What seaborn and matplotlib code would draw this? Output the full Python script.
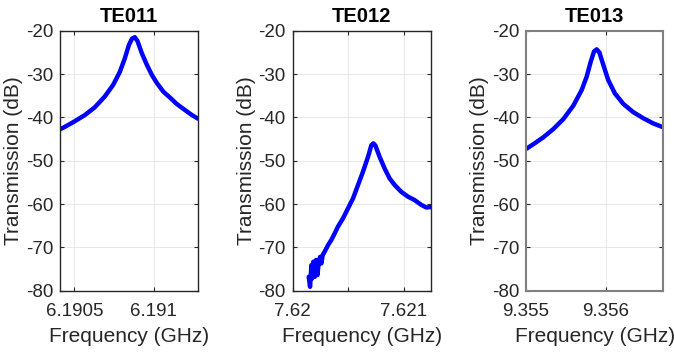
import numpy as np
import pandas as pd
import seaborn as sns
import matplotlib.pyplot as plt

# TE011 trace
f_te011 = [6.190408, 6.190440, 6.190498, 6.190565, 6.190628, 6.190691, 6.190744,
           6.190786, 6.190817, 6.190843, 6.190863, 6.190880, 6.190897, 6.190924,
           6.190956, 6.190987, 6.191019, 6.191060, 6.191103, 6.191140, 6.191176,
           6.191240, 6.191277]
s_te011 = [-42.8, -42.2, -41.0, -39.5, -37.7, -35.2, -32.5,
           -29.5, -26.4, -23.3, -21.8, -21.5, -22.4, -25.2,
           -27.9, -30.2, -32.1, -34.1, -35.5, -36.8, -37.8,
           -39.5, -40.3]

# TE012 trace (noisy low end)
f_te012 = [7.620144, 7.620156, 7.620168, 7.620174, 7.620186, 7.620198, 7.620210,
           7.620222, 7.620234, 7.620246, 7.620258, 7.620269, 7.620287, 7.620317,
           7.620347, 7.620377, 7.620407, 7.620452, 7.620497, 7.620542, 7.620587,
           7.620632, 7.620677, 7.620707, 7.620725, 7.620743, 7.620781, 7.620826,
           7.620871, 7.620916, 7.620976, 7.621036, 7.621096, 7.621156, 7.621201,
           7.621240]
s_te012 = [-76.8, -79.1, -74.1, -77.2, -73.3, -76.8, -72.9,
           -76.4, -73.5, -72.2, -73.7, -71.8, -71.0, -69.5,
           -68.3, -66.8, -65.2, -63.3, -61.0, -58.7, -55.6,
           -52.5, -49.1, -46.4, -46.0, -46.5, -49.1, -51.8,
           -54.1, -55.6, -57.2, -58.3, -59.1, -60.2, -60.8,
           -60.7]

# TE013 trace
f_te013 = [9.355000, 9.355092, 9.355218, 9.355343, 9.355469, 9.355594, 9.355699,
           9.355762, 9.355812, 9.355854, 9.355887, 9.355921, 9.355971, 9.356033,
           9.356117, 9.356222, 9.356347, 9.356473, 9.356598, 9.356724]
s_te013 = [-47.3, -46.2, -44.6, -42.7, -40.4, -37.3, -33.7,
           -30.6, -27.2, -24.8, -24.3, -25.0, -27.9, -31.4,
           -34.5, -36.9, -38.8, -40.2, -41.4, -42.3]

titles = ["TE011", "TE012", "TE013"]
xlims = [(6.190410, 6.191277), (7.620, 7.621240), (9.355, 9.356724)]
xticks = [[6.1905, 6.191], [7.620, 7.6205, 7.621], [9.355, 9.356]]
xticklabels = [["6.1905", "6.191"], ["7.62", "", "7.621"], ["9.355", "9.356"]]
yticks = [-80, -70, -60, -50, -40, -30, -20]

sns.set_theme(style="white")
plt.rcParams['font.family'] = ['Liberation Sans', 'DejaVu Sans']

fig = plt.figure(figsize=(6.74, 3.52), dpi=100)
lefts = [60 / 674, 292.7 / 674, 526 / 674]
widths = [138 / 674, 138 / 674, 137.3 / 674]
spine_cols = ["#262626", "#262626", "#808080"]
spine_lws = [1.0, 1.0, 1.5]

traces = [(f_te011, s_te011), (f_te012, s_te012), (f_te013, s_te013)]
for i, (f, s) in enumerate(traces):
    ax = fig.add_axes([lefts[i], 1 - 290.7 / 352, widths[i], 260 / 352])
    df = pd.DataFrame({"freq": f, "s21": s})
    sns.lineplot(data=df, x="freq", y="s21", ax=ax, color="#0000ff",
                 linewidth=3.2, estimator=None, sort=False,
                 solid_capstyle="round", solid_joinstyle="round")
    ax.set_xlim(*xlims[i])
    ax.set_ylim(-80, -20)
    ax.set_xticks(xticks[i])
    ax.set_xticklabels(xticklabels[i])
    ax.set_yticks(yticks)
    ax.set_yticklabels([str(v) for v in yticks])
    ax.grid(True, color="#e4e4e4", linewidth=0.6)
    ax.tick_params(direction="in", length=3, width=0.8, colors="#262626",
                   labelsize=13.5, top=True, right=True, bottom=True, left=True)
    ax.tick_params(axis="y", pad=5)
    ax.tick_params(axis="x", pad=9)
    for sp in ax.spines.values():
        sp.set_color(spine_cols[i])
        sp.set_linewidth(spine_lws[i])
    ax.set_title(titles[i], fontsize=14.5, fontweight="bold", pad=6, color="black")
    ax.set_xlabel("Frequency (GHz)", fontsize=15, color="#262626", labelpad=5)
    ax.set_ylabel("Transmission (dB)", fontsize=15, color="#262626", labelpad=2)

plt.savefig("out.png", dpi=100)
